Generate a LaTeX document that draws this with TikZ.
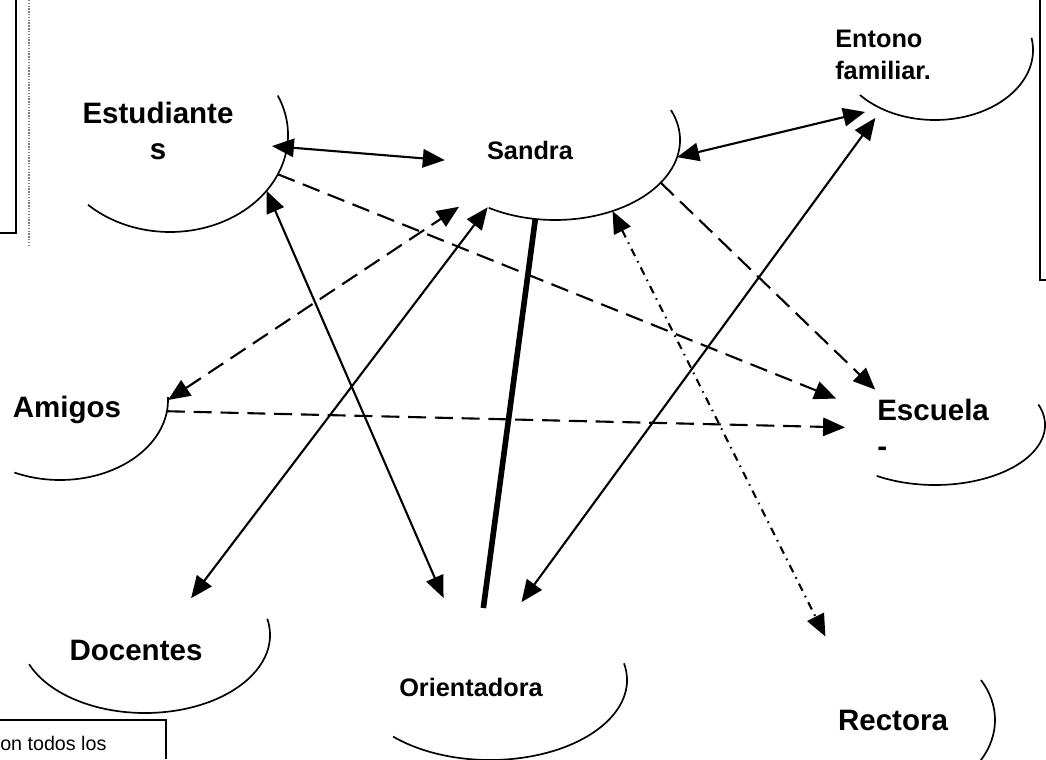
\documentclass[tikz,border=0pt]{standalone}
\usepackage{fontspec}
\setmainfont{Liberation Sans}
\usetikzlibrary{arrows.meta,shapes.geometric}

% visible part of a bubble: arc round the centre of its ellipse node
\newcommand{\rimarc}[5]{\draw[rim] (#1.center) ++(#4:#2 and #3) arc[start angle=#4,end angle=#5,x radius=#2,y radius=#3];}

\begin{document}
\begin{tikzpicture}[x=0.25mm,y=0.25mm,
   blob/.style 2 args={ellipse,minimum width=2*#1,minimum height=2*#2,inner sep=0pt,outer sep=0pt},
   lbl/.style={inner sep=0pt,font=\fontsize{21}{26}\selectfont\bfseries},
   lblsm/.style={inner sep=0pt,font=\fontsize{18}{23}\selectfont\bfseries},
   rim/.style={line width=1.2pt},
   oneway/.style={-{Triangle[length=5.5mm,width=4.6mm]},line width=1.5pt},
   both/.style={{Triangle[length=5.5mm,width=4.6mm]}-{Triangle[length=5.5mm,width=4.6mm]},line width=1.5pt},
   dashy/.style={dash pattern=on 4.5mm off 2.2mm},
   dashdot/.style={dash pattern=on 2mm off 1.4mm on 0.4mm off 1.4mm}]
\path[use as bounding box] (0,0) rectangle (1046,-759);
\clip (0,0) rectangle (1046,-759);

% bubbles
\node[blob={29.5mm}{24.25mm}] (est) at (170,-135) {};
\node[blob={31.25mm}{20mm}] (sandra) at (555,-140) {};
\node[blob={24.5mm}{17.5mm}] (entono) at (935,-50) {};
\node[blob={27mm}{20mm}] (amigos) at (60,-400) {};
\node[blob={27.5mm}{15mm}] (escuela) at (935,-425) {};
\node[blob={31.25mm}{19.5mm}] (docentes) at (145,-635) {};
\node[blob={34.25mm}{20mm}] (orient) at (490,-680) {};
\node[blob={26.25mm}{20mm}] (rectora) at (890,-720) {};

\rimarc{est}{29.5mm}{24.25mm}{24}{-134}
\rimarc{sandra}{31.25mm}{20mm}{22}{-122}
\rimarc{entono}{24.5mm}{17.5mm}{10}{-140}
\rimarc{amigos}{27mm}{20mm}{2}{-115}
\rimarc{escuela}{27.5mm}{15mm}{20}{-122}
\rimarc{docentes}{31.25mm}{19.5mm}{12}{-158}
\rimarc{orient}{34.25mm}{20mm}{12}{-135}
\rimarc{rectora}{26.25mm}{20mm}{30}{-80}

% labels
\node[lbl,align=center] (estT) at (158,-131) {Estudiante\\s};
\node[lblsm] (sandraT) at (530,-150) {Sandra};
\node[lblsm,align=left,anchor=west] (entonoT) at (835,-55) {Entono\\familiar.};
\node[lbl] (amigosT) at (67,-410) {Amigos};
\node[lbl,align=left,anchor=west] (escuelaT) at (877,-428) {Escuela\\{-}};
\node[lbl] (docentesT) at (136,-650) {Docentes};
\node[lblsm] (orientT) at (471,-687) {Orientadora};
\node[lbl] (rectoraT) at (893,-720) {Rectora};

% links
\draw[both,shorten <=-3.8mm,shorten >=-2.8mm] (est.-6) -- (sandra.189);
\draw[oneway,dashy] (est.-20) -- (escuela.165);
\draw[both,shorten >=1.7mm] (est.-30) -- (orient.120);
\draw[both,shorten >=4mm] (sandra.-8) -- (entono.227);
\draw[oneway,dashy,shorten >=-3.8mm] (sandra.-22) -- (escuela.147);
\draw[both,shorten <=-9mm] (docentes.44) -- (sandra.225);
\draw[both,dashy,shorten >=3.5mm] (amigos.0) -- (sandra.215);
\draw[oneway,dashy,shorten >=-5mm] (amigos.-6) -- (escuela.181);
\draw[line width=4pt,shorten >=-2mm] (sandra.256) -- (orient.94);
\draw[both,shorten >=2.8mm] (orient.68) -- (entono.228);
\draw[both,dashdot,shorten >=4.5mm] (sandra.-51) -- (rectora.130);

% page edges of the scan
\draw[line width=1.6pt] (16,0) -- (16,-233) -- (0,-233);
\draw[densely dotted,gray,line width=1pt] (29,0) -- (29,-245);
\draw[line width=1.6pt] (1040,0) -- (1040,-280) -- (1046,-280);
\draw[line width=1.2pt] (0,-720) -- (166,-720) -- (166,-759);
\node[anchor=west,inner sep=0pt,font=\fontsize{14}{16}\selectfont] (note) at (0,-743) {on todos los};
\end{tikzpicture}
\end{document}
